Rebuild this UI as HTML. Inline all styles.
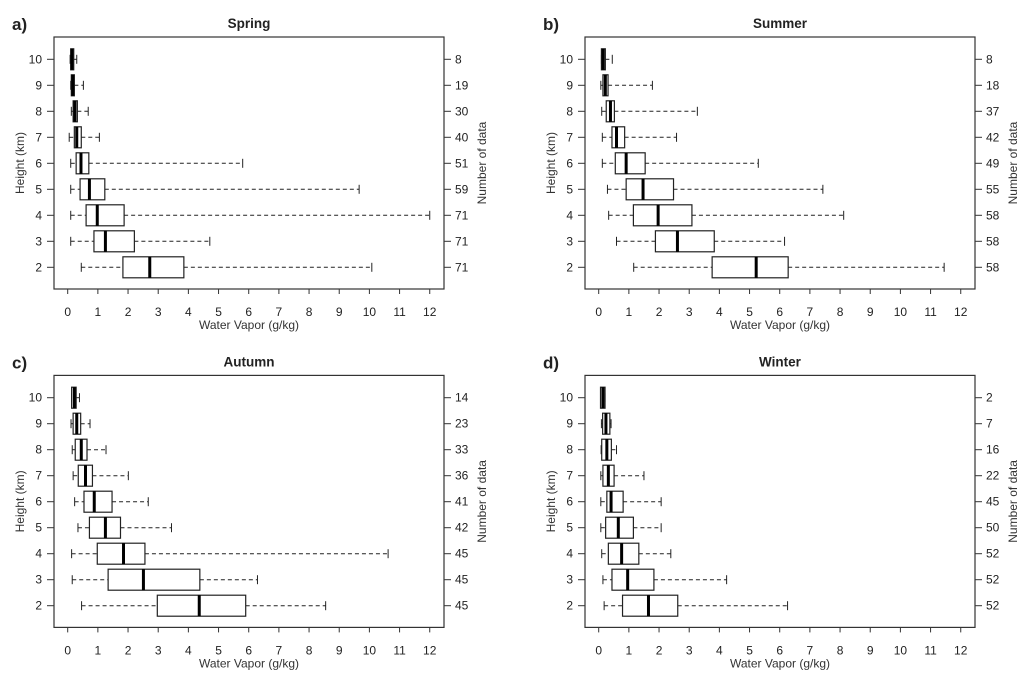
<!DOCTYPE html>
<html><head><meta charset="utf-8"><style>
html,body{margin:0;padding:0;background:#fff;}
svg{display:block;font-family:"Liberation Sans",Arial,sans-serif;}
</style></head><body>
<svg id="fig" width="1024" height="676" viewBox="0 0 1024 676"></svg>
<script>
const heights=[10,9,8,7,6,5,4,3,2];
const springStats=[[0.08,0.1,0.14,0.2,0.3],[0.1,0.12,0.17,0.22,0.52],[0.12,0.18,0.24,0.32,0.68],[0.05,0.22,0.3,0.45,1.05],[0.1,0.28,0.44,0.7,5.8],[0.1,0.41,0.72,1.23,9.66],[0.1,0.61,0.98,1.87,12.0],[0.1,0.87,1.25,2.21,4.71],[0.45,1.83,2.72,3.85,10.08]];
const springN=[8,19,30,40,51,59,71,71,71];
const summerStats=[[0.09,0.09,0.15,0.22,0.45],[0.07,0.14,0.22,0.31,1.78],[0.1,0.25,0.39,0.52,3.27],[0.12,0.44,0.59,0.86,2.58],[0.12,0.55,0.91,1.54,5.29],[0.29,0.91,1.47,2.48,7.43],[0.33,1.15,1.97,3.09,8.12],[0.59,1.88,2.61,3.83,6.16],[1.16,3.76,5.22,6.28,11.45]];
const summerN=[8,18,37,42,49,55,58,58,58];
const autumnStats=[[0.13,0.13,0.22,0.28,0.39],[0.11,0.18,0.3,0.43,0.74],[0.15,0.25,0.45,0.64,1.27],[0.18,0.35,0.59,0.82,2.01],[0.23,0.54,0.88,1.47,2.67],[0.34,0.72,1.25,1.75,3.44],[0.13,0.98,1.85,2.56,10.62],[0.15,1.34,2.51,4.38,6.29],[0.46,2.97,4.36,5.9,8.55]];
const autumnN=[14,23,33,36,41,42,45,45,45];
const winterStats=[[0.06,0.06,0.14,0.21,0.21],[0.09,0.13,0.24,0.37,0.41],[0.08,0.1,0.27,0.42,0.59],[0.07,0.14,0.32,0.51,1.5],[0.07,0.27,0.41,0.81,2.07],[0.07,0.23,0.65,1.15,2.07],[0.1,0.32,0.76,1.33,2.39],[0.14,0.44,0.96,1.83,4.24],[0.18,0.79,1.65,2.62,6.26]];
const winterN=[2,7,16,22,45,50,52,52,52];
const xTicks=[0,1,2,3,4,5,6,7,8,9,10,11,12];

const svg=document.getElementById('fig');
const NS='http://www.w3.org/2000/svg';
function mk(tag,attrs,parent){const e=document.createElementNS(NS,tag);for(const k in attrs)e.setAttribute(k,attrs[k]);(parent||svg).appendChild(e);return e;}
function txt(s,attrs,parent){const e=mk('text',attrs,parent);e.textContent=s;return e;}

function panel(name,letter,title,stats,counts,dx,dy){
  const g=mk('g',{});
  
  
  const x0=67.7+dx, sx=30.17;
  const X=v=>x0+v*sx;
  const Y=h=>267.3+dy-(h-2)*26;
  const L=54+dx,R=444+dx,T=37+dy,B=289+dy;
  const lab=txt(letter,{x:12+dx,y:30+dy,'font-size':17,'font-weight':'bold',fill:'#222'},g);
  
  
  const t=txt(title,{x:(L+R)/2,y:28+dy,'font-size':13.5,'font-weight':'bold','text-anchor':'middle',fill:'#222'},g);
  
  
  const fr=mk('rect',{x:L,y:T,width:R-L,height:B-T,fill:'none',stroke:'#333','stroke-width':1.2},g);
  
  
  xTicks.forEach(v=>{
    mk('line',{x1:X(v),x2:X(v),y1:B,y2:B+5,stroke:'#333'},g);
    const tl=txt(String(v),{x:X(v),y:B+27,'font-size':12,'text-anchor':'middle',fill:'#222'},g);
    
    
  });
  const xt=txt('Water Vapor (g/kg)',{x:(L+R)/2,y:B+40,'font-size':12,'text-anchor':'middle',fill:'#333'},g);
  
  
  const yt=txt('Height (km)',{x:0,y:0,'font-size':12,'text-anchor':'middle',fill:'#333',transform:`translate(${24+dx},${(T+B)/2}) rotate(-90)`},g);
  
  
  const rt=txt('Number of data',{x:0,y:0,'font-size':12,'text-anchor':'middle',fill:'#333',transform:`translate(${486+dx},${(T+B)/2}) rotate(-90)`},g);
  
  
  heights.forEach((h,i)=>{
    const y=Y(h);
    mk('line',{x1:L-7,x2:L,y1:y,y2:y,stroke:'#333'},g);
    mk('line',{x1:R,x2:R+7,y1:y,y2:y,stroke:'#333'},g);
    const hl=txt(String(h),{x:L-12,y:y+4,'font-size':12,'text-anchor':'end',fill:'#222'},g);
    
    
    const nl=txt(String(counts[i]),{x:R+11,y:y+4,'font-size':12,fill:'#222'},g);
    
    
    const s=stats[i];
    const bg=mk('g',{},g);
    
    
    mk('line',{x1:X(s[0]),x2:X(s[1]),y1:y,y2:y,stroke:'#222','stroke-dasharray':'4,3'},bg);
    mk('line',{x1:X(s[3]),x2:X(s[4]),y1:y,y2:y,stroke:'#222','stroke-dasharray':'4,3'},bg);
    mk('line',{x1:X(s[0]),x2:X(s[0]),y1:y-4.5,y2:y+4.5,stroke:'#222'},bg);
    mk('line',{x1:X(s[4]),x2:X(s[4]),y1:y-4.5,y2:y+4.5,stroke:'#222'},bg);
    mk('rect',{x:X(s[1]),y:y-10.5,width:Math.max(X(s[3])-X(s[1]),1),height:21,fill:'#fff',stroke:'#222','stroke-width':1.2},bg);
    mk('line',{x1:X(s[2]),x2:X(s[2]),y1:y-10.5,y2:y+10.5,stroke:'#000','stroke-width':3},bg);
  });
}
panel('spring','a)','Spring',springStats,springN,0,0);
panel('summer','b)','Summer',summerStats,summerN,531,0);
panel('autumn','c)','Autumn',autumnStats,autumnN,0,338.4);
panel('winter','d)','Winter',winterStats,winterN,531,338.4);
</script>
</body></html>
